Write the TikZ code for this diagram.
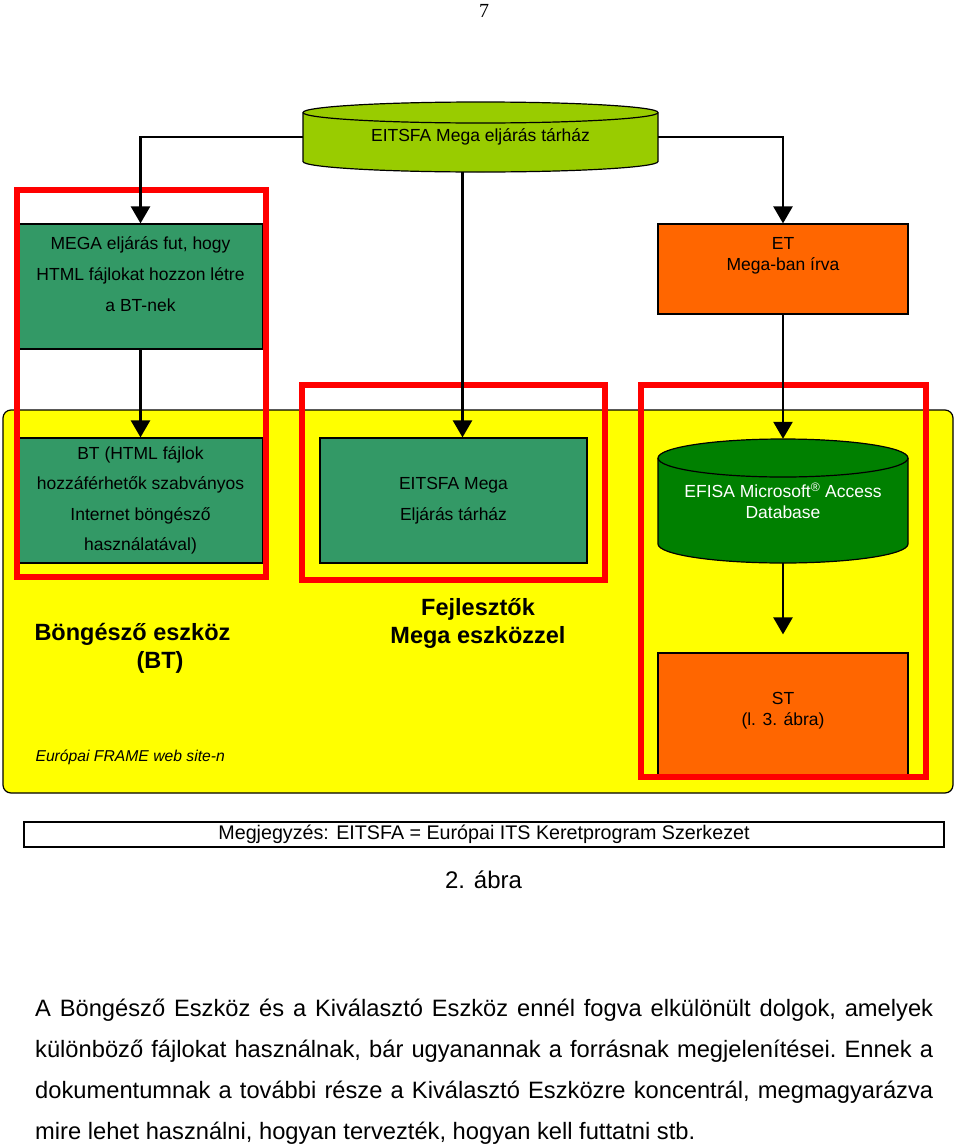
\documentclass[tikz,border=0pt]{standalone}
\usepackage{fontspec}
\setmainfont{Liberation Sans}
\newfontfamily\pagefont{Liberation Serif}
\usetikzlibrary{positioning, arrows.meta}

\definecolor{limegreen}{HTML}{99CC00}
\definecolor{seagreen}{HTML}{339966}
\definecolor{dbgreen}{HTML}{008000}
\definecolor{storange}{HTML}{FF6600}
\definecolor{framered}{HTML}{FF0000}
\definecolor{siteyellow}{HTML}{FFFF00}

\tikzset{
  box/.style={draw, line width=1.2pt, inner sep=0pt, align=center,
    font=\fontsize{17.5}{31}\selectfont},
  greenbox/.style={box, fill=seagreen, minimum width=245pt, minimum height=125pt},
  orbox/.style={box, fill=storange, minimum width=250pt,
    font=\fontsize{17.5}{21}\selectfont},
  dbtext/.style={inner sep=0pt, align=center, font=\fontsize{17.5}{21}\selectfont},
  cyl/.style={line width=1.2pt},
  arr/.style={line width=2.5pt, -{Triangle[length=17pt, width=19pt]}},
  redframe/.style={draw=framered, line width=5.5pt},
  bigtext/.style={font=\bfseries\fontsize{23.5}{28}\selectfont}
}

\begin{document}
\begin{tikzpicture}[x=1pt, y=-1pt]
	\useasboundingbox (0,0) rectangle (960,1146);
	
	% Page number
	\node[font=\pagefont\fontsize{20}{20}\selectfont, anchor=base] (page) at (484,17) {7};
	
	% Yellow web site area
	\draw[fill=siteyellow, rounded corners=8pt, line width=1.2pt] (3,410) rectangle (953,793);
	
	% Cylinders (storage and database)
	\filldraw[cyl, fill=limegreen] (303,112.5) -- (303,161.5) arc[start angle=180, end angle=0, x radius=177.5, y radius=10.5]
	  -- (658,112.5) arc[start angle=0, end angle=-180, x radius=177.5, y radius=10.5] -- cycle;
	\draw[cyl] (303,112.5) arc[start angle=180, end angle=0, x radius=177.5, y radius=10.5];
	\filldraw[cyl, fill=dbgreen] (658,458) -- (658,544) arc[start angle=180, end angle=0, x radius=125, y radius=19]
	  -- (908,458) arc[start angle=0, end angle=-180, x radius=125, y radius=19] -- cycle;
	\draw[cyl] (658,458) arc[start angle=180, end angle=0, x radius=125, y radius=19];
	
	% Boxes
	\node[dbtext, minimum width=355pt, minimum height=70pt] (tar) at (480.5,137) {EITSFA Mega eljárás tárház};
	\node[greenbox, text depth=25pt] (mega) at (140.5,286.5) {MEGA eljárás fut, hogy\\HTML fájlokat hozzon létre\\a BT-nek};
	\node[greenbox, font=\fontsize{17.5}{30.5}\selectfont] (bt) at (140.5,500.5) {BT (HTML fájlok\\hozzáférhetők szabványos\\Internet böngésző\\használatával)};
	\node[greenbox, minimum width=267pt] (eitsfa) at (453.5,500.5) {EITSFA Mega\\Eljárás tárház};
	\node[orbox, minimum height=90pt, text depth=31pt] (et) at (783,269) {ET\\Mega-ban írva};
	\node[dbtext, text=white, minimum width=250pt, minimum height=124pt] (efisa) at (783,501) {EFISA Microsoft\textsuperscript{®} Access\\Database};
	\node[orbox, minimum height=124pt, text depth=12pt] (st) at (783,715) {ST\\(l. 3. ábra)};
	
	% Labels in the yellow area
	\node[bigtext, align=left, anchor=north west] (bongeszo) at (31,620) {Böngésző eszköz\\\hspace*{102pt}(BT)};
	\node[bigtext, align=center] (fejlesztok) at (478,623) {Fejlesztők\\Mega eszközzel};
	\node[font=\itshape\fontsize{15.7}{18}\selectfont, anchor=west] (frame) at (32,757) {Európai FRAME web site-n};
	
	% Red frames
	\draw[redframe] (17,190) rectangle (266,577);
	\draw[redframe] (302,385) rectangle (605,580);
	\draw[redframe] (641,385) rectangle (926,777);
	
	% Connectors
	\draw[arr] (tar.west) -| (mega.north);
	\draw[arr] (tar.east) -| (et.north);
	\draw[arr] ([xshift=-18pt]tar.south) -- ([xshift=-18pt]tar.south |- eitsfa.north);
	\draw[arr] (mega.south) -- (bt.north);
	\draw[arr] (et.south) -- (efisa.north);
	\draw[arr] (efisa.south) -- ([yshift=18pt]st.north);
	
	% Note and caption
	\node[draw, line width=2pt, minimum width=920pt, minimum height=25pt, inner sep=0pt,
	  font=\fontsize{19.7}{20}\selectfont] (note) at (484,834.5) {Megjegyzés: EITSFA = Európai ITS Keretprogram Szerkezet};
	\node[font=\fontsize{24}{26}\selectfont] (caption) at (483.5,880) {2. ábra};
	
	% Paragraph below the figure
	\node[anchor=north west, inner sep=0pt, text width=898pt, align=justify,
	  font=\fontsize{23.7}{41}\selectfont] (para) at (35,999) {\hyphenpenalty=10000\frenchspacing A Böngésző Eszköz és a Kiválasztó Eszköz ennél fogva elkülönült dolgok, amelyek\linebreak különböző fájlokat használnak, bár ugyanannak a forrásnak megjelenítései. Ennek a\linebreak dokumentumnak a további része a Kiválasztó Eszközre koncentrál, megmagyarázva\linebreak mire lehet használni, hogyan tervezték, hogyan kell futtatni stb.};
\end{tikzpicture}
\end{document}
